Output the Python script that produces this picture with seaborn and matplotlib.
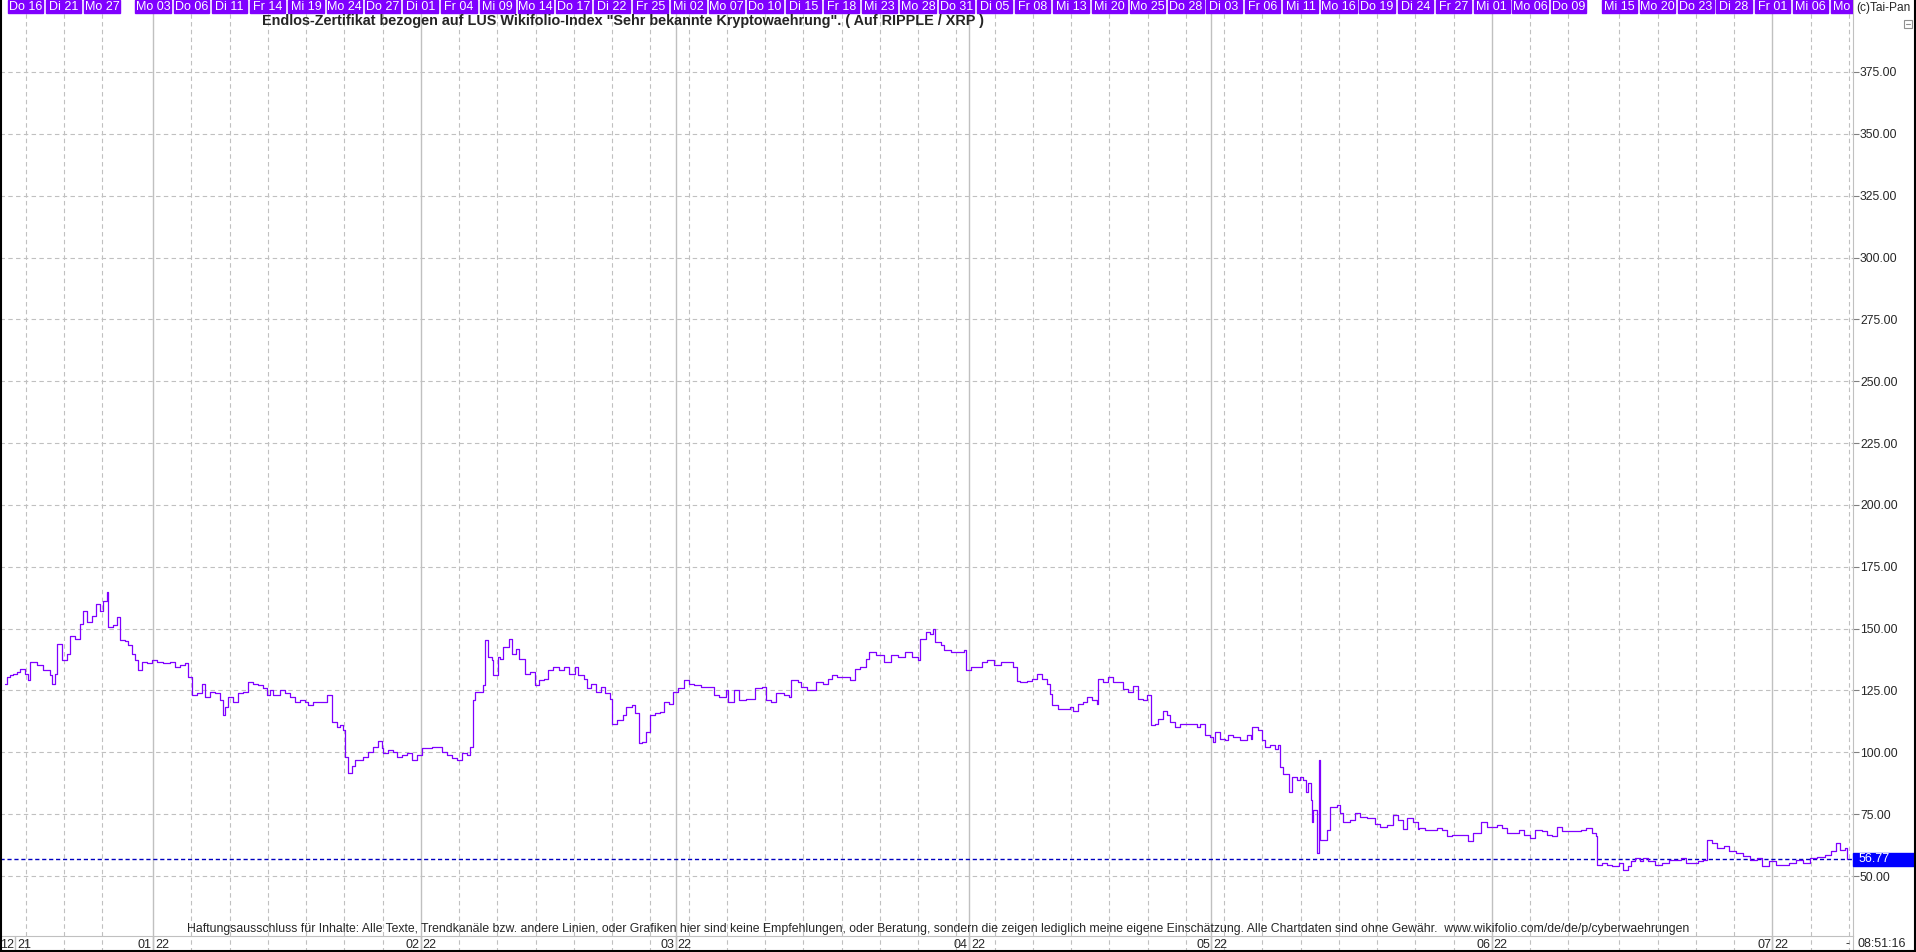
import pandas as pd
import matplotlib
matplotlib.use("Agg")
import matplotlib.pyplot as plt
import matplotlib.transforms as mtransforms
from matplotlib.patches import Rectangle
import seaborn as sns

# trading days at LUS, 14.12.2021 - 11.07.2022
feiertage = ["2021-12-24", "2021-12-31", "2022-04-15", "2022-04-18"]
handelstage = pd.bdate_range("2021-12-14", "2022-07-11")
handelstage = handelstage[~handelstage.isin(pd.to_datetime(feiertage))]
pos = {d: i for i, d in enumerate(handelstage)}

# price series: position in trading days since 14.12.2021, price
tag = [0.39, 0.55, 0.78, 1.02, 1.33, 1.57, 1.96, 2.20, 2.35, 2.90, 3.37, 3.92, 4.08, 4.31, 4.47, 4.86,
       5.25, 5.49, 5.88, 6.27, 6.51, 6.82, 7.22, 7.53, 7.84, 8.08, 8.39, 8.47, 8.86, 9.18, 9.41, 9.80,
       10.04, 10.35, 10.59, 10.82, 11.14, 11.53, 11.92, 12.31, 12.78, 13.33, 13.73, 14.12, 14.51, 14.75,
       15.06, 15.45, 15.84, 16.08, 16.47, 16.86, 17.25, 17.49, 17.65, 17.88, 18.27, 18.67, 19.06, 19.45,
       19.84, 20.24, 20.63, 20.94, 21.18, 21.41, 21.96, 22.35, 22.75, 23.14, 23.53, 23.92, 24.16, 24.55,
       25.10, 25.65, 25.88, 26.04, 26.43, 26.67, 26.90, 27.06, 27.29, 27.61, 27.84, 28.08, 28.47, 28.86,
       29.25, 29.65, 29.96, 30.04, 30.43, 30.82, 31.14, 31.53, 31.92, 32.31, 32.71, 33.10, 33.49, 33.88,
       34.27, 34.67, 35.06, 35.45, 35.84, 36.24, 36.63, 36.86, 37.10, 37.25, 37.65, 37.88, 38.04, 38.27,
       38.59, 38.67, 39.06,
       39.22, 39.45, 39.92, 40.16, 40.47, 40.71, 41.18, 41.57, 41.96, 42.27, 42.67, 42.98, 43.37, 43.84,
       44.24, 44.63, 45.10, 45.33, 45.80, 46.04, 46.35, 46.75, 47.14, 47.45, 47.84, 48.00, 48.39, 48.86,
       49.10, 49.57, 49.80, 50.12, 50.35, 50.67, 50.98, 51.37, 51.76, 52.08, 52.47, 52.78, 53.18, 53.65,
       54.04, 54.43, 54.98, 55.61, 56.00, 56.39, 56.94, 57.10, 57.57, 57.96, 58.51, 59.06, 59.22, 59.76,
       60.08, 60.47, 60.86, 61.49, 61.88, 62.04, 62.59, 62.82, 63.29, 64.00, 64.55, 64.94, 65.25, 65.65,
       66.20, 66.67, 67.06, 67.45, 67.92, 68.16, 68.71, 69.33, 69.88, 70.43, 70.98, 71.53, 72.00, 72.16,
       72.63, 72.94, 73.18, 73.33, 73.80, 74.04, 74.59, 75.22, 75.61, 75.76, 76.16, 76.55, 77.02, 77.41,
       77.96, 78.51, 79.14,
       79.45, 79.76, 80.00, 80.55, 80.94, 81.33, 81.73, 82.12, 82.35, 82.51, 82.98, 83.53, 83.92, 84.16,
       84.55, 84.94, 85.25, 85.65, 86.04, 86.12, 86.51, 86.90, 87.29, 87.69, 88.08, 88.47, 88.86, 89.25,
       89.65, 89.96, 90.27, 90.59, 90.82, 91.22, 91.53, 91.76, 92.16, 92.55, 93.10, 93.49, 93.88, 94.12,
       94.51, 94.90, 95.14, 95.29, 95.69, 96.08, 96.31, 96.71, 97.25, 97.80, 98.12, 98.20, 98.67, 98.98,
       99.22, 99.61, 100.00, 100.24, 100.39, 100.63, 100.94, 101.10, 101.33, 101.73, 101.96, 102.20,
       102.43, 102.59, 102.82, 102.90, 102.98, 103.29, 103.33, 103.45, 103.53, 103.76, 104.08, 104.31,
       104.55, 104.86, 105.10, 105.33, 105.88, 106.27, 106.67, 107.22, 107.61, 107.84, 108.24, 108.78,
       109.25, 109.65, 110.04, 110.35, 110.82, 111.22,
       111.29, 111.76, 112.16, 112.71, 113.10, 113.49, 113.88, 114.27, 114.67, 115.14, 115.53, 115.92,
       116.16, 116.63, 117.02, 117.41, 117.80, 118.20, 118.75, 119.14, 119.53, 120.00, 120.39, 120.94,
       121.33, 121.73, 122.12, 122.51, 123.06, 123.61, 124.00, 124.39, 124.86, 125.18, 125.25, 125.65,
       126.04, 126.43, 126.98, 127.29, 127.69, 127.92, 128.24, 128.63, 128.86, 129.25, 129.80, 130.35,
       130.90, 131.45, 131.84, 132.24, 132.78, 133.18, 133.57, 133.88, 134.27, 134.67, 135.22, 135.61,
       136.16, 136.71, 137.25, 137.80, 138.20, 138.75, 139.29, 139.84, 140.31, 140.86, 141.41, 141.96,
       142.51, 143.14, 143.61, 144.00, 144.31, 144.71, 144.86]
kurs = [127.8, 130.5, 131.2, 131.8, 132.5, 133.8, 131.8, 129.2, 136.5, 135.2, 133.2, 131.2, 127.8, 131.8, 143.9, 137.2,
        139.9, 147.2, 145.9, 151.9, 157.3, 152.6, 155.3, 160.0, 157.3, 161.3, 164.7, 150.6, 151.3, 154.6, 145.2, 145.0,
        143.2, 139.9, 137.2, 133.2, 136.5, 135.9, 137.2, 136.5, 135.9, 136.5, 134.5, 135.2, 135.9, 130.5,
        123.1, 123.8, 127.8, 122.5, 124.5, 123.8, 121.1, 115.1, 118.4, 122.5, 120.4, 123.8, 124.5, 128.5,
        127.8, 127.1, 125.8, 123.1, 125.1, 123.1, 125.1, 123.8, 122.5, 120.4, 121.1, 120.4, 119.1, 120.4,
        120.4, 123.1, 123.1, 112.4, 110.4, 111.1, 109.0, 98.3, 91.6, 94.3, 97.0, 97.0, 98.3, 100.3,
        102.3, 104.4, 101.7, 99.7, 101.0, 100.3, 98.3, 99.0, 99.7, 97.0, 99.0, 101.7, 101.7, 102.3,
        102.3, 100.3, 99.0, 97.7, 97.0, 99.7, 99.0, 102.3, 121.1, 124.5, 124.5, 127.1, 145.2, 138.5,
        137.2, 131.2, 138.5,
        137.9, 142.6, 146.0, 139.9, 141.9, 137.9, 131.8, 132.5, 127.1, 129.1, 129.8, 133.2, 134.5, 133.2,
        134.5, 131.8, 134.5, 131.2, 129.8, 125.8, 127.8, 124.4, 126.4, 123.8, 121.7, 111.6, 113.0, 115.0,
        118.4, 119.0, 115.7, 103.6, 104.2, 108.3, 115.0, 115.7, 116.4, 120.4, 119.7, 124.4, 125.8, 129.1,
        127.8, 127.1, 126.4, 126.4, 123.1, 122.4, 125.1, 120.4, 125.1, 121.1, 121.7, 121.7, 125.8, 126.4,
        121.1, 120.4, 123.8, 123.1, 122.4, 129.1, 128.5, 126.4, 125.1, 128.5, 127.8, 129.8, 131.2, 130.5,
        130.5, 129.1, 133.8, 134.5, 137.9, 140.6, 139.2, 136.5, 139.2, 138.6, 140.6, 138.6, 137.2, 146.0,
        148.7, 148.0, 150.0, 144.6, 143.3, 141.3, 140.6, 140.6, 141.3, 133.2, 134.5, 134.5, 136.5, 137.2,
        135.2, 136.5, 136.5,
        134.4, 129.0, 128.4, 129.0, 129.7, 131.7, 129.7, 127.7, 123.7, 119.0, 117.6, 117.6, 118.3, 116.9,
        119.6, 120.3, 122.3, 121.0, 119.6, 129.7, 128.4, 130.4, 128.4, 128.4, 125.7, 124.3, 127.0, 121.6,
        121.0, 123.0, 110.9, 111.6, 113.6, 116.9, 114.9, 112.2, 110.2, 111.6, 111.6, 111.6, 110.2, 111.6,
        106.9, 106.2, 104.2, 108.2, 105.5, 104.8, 106.9, 106.2, 104.8, 106.9, 105.5, 110.2, 108.9, 104.8,
        102.2, 102.8, 101.5, 102.8, 94.1, 91.4, 91.4, 84.0, 90.1, 88.7, 90.1, 88.7,
        84.0, 87.4, 80.6, 71.9, 76.6, 65.2, 59.1, 96.8, 64.5, 64.5, 68.5, 78.0,
        78.0, 78.6, 75.3, 71.9, 72.6, 75.3, 73.9, 73.3, 73.3, 71.2, 69.9, 70.6,
        74.6, 72.6, 69.2, 73.3, 71.9, 69.2,
        69.4, 68.7, 68.7, 69.4, 68.7, 66.0, 66.7, 66.7, 66.7, 64.0, 67.3, 67.3,
        72.0, 70.0, 70.0, 70.7, 69.4, 67.3, 67.3, 68.7, 66.7, 65.3, 68.7, 68.0,
        66.7, 66.0, 70.0, 68.0, 68.0, 68.0, 68.7, 69.4, 67.3, 66.0, 54.6, 55.3,
        54.6, 53.9, 55.3, 52.6, 53.9, 55.9, 57.3, 55.9, 57.3, 55.9, 54.6, 55.3,
        56.6, 56.6, 57.3, 55.3, 55.3, 55.9, 56.6, 64.7, 63.3, 61.3, 62.0, 60.0,
        59.3, 57.9, 56.6, 57.3, 53.9, 55.9, 54.6, 54.6, 55.3, 56.6, 55.3, 57.3,
        57.7, 58.5, 60.0, 63.3, 60.5, 61.2, 56.77]
letzter_kurs = 56.77
uhrzeit = "08:51:16"

# day labels in the top bar
kopf_tage = ["2021-12-16", "2021-12-21", "2021-12-27", "2022-01-03", "2022-01-06", "2022-01-11",
             "2022-01-14", "2022-01-19", "2022-01-24", "2022-01-27", "2022-02-01", "2022-02-04",
             "2022-02-09", "2022-02-14", "2022-02-17", "2022-02-22", "2022-02-25", "2022-03-02",
             "2022-03-07", "2022-03-10", "2022-03-15", "2022-03-18", "2022-03-23", "2022-03-28",
             "2022-03-31", "2022-04-05", "2022-04-08", "2022-04-13", "2022-04-20", "2022-04-25",
             "2022-04-28", "2022-05-03", "2022-05-06", "2022-05-11", "2022-05-16", "2022-05-19",
             "2022-05-24", "2022-05-27", "2022-06-01", "2022-06-06", "2022-06-09", "2022-06-15",
             "2022-06-20", "2022-06-23", "2022-06-28", "2022-07-01", "2022-07-06", "2022-07-11"]
wochentag = ["Mo", "Di", "Mi", "Do", "Fr"]
y_ticks = list(range(50, 400, 25))

titel = ('Endlos-Zertifikat bezogen auf LUS Wikifolio-Index "Sehr bekannte Kryptowaehrung". '
         '( Auf RIPPLE / XRP )')
hinweis = ("Haftungsausschluss für Inhalte: Alle Texte, Trendkanäle bzw. andere Linien, oder Grafiken hier "
           "sind keine Empfehlungen, oder Beratung, sondern die zeigen lediglich meine eigene Einschätzung. "
           "Alle Chartdaten sind ohne Gewähr.  www.wikifolio.com/de/de/p/cyberwaehrungen")

lila = "#8000FF"
grau = "#C0C0C0"

sns.set_style("white")
plt.rcParams["font.family"] = ["Liberation Sans", "DejaVu Sans"]

W, H = 1916, 952
fig = plt.figure(figsize=(W / 100, H / 100), dpi=100)
ax = fig.add_axes([0, 16 / H, 1853 / W, 936 / H])
ax2 = fig.add_axes([0, 0, 1853 / W, 16 / H], sharex=ax)

sns.lineplot(x=tag, y=kurs, ax=ax, color=lila, linewidth=0.9, drawstyle="steps-post",
             estimator=None, sort=False, zorder=5)

x_max = 145.33
ax.set_xlim(0, x_max)
ax.set_ylim(25.75, 404.1)

# grid
dash = (0, (4, 3))
monats_start = handelstage.to_series().groupby(handelstage.to_period("M")).first()
monats_pos = [pos[d] for d in monats_start.iloc[1:]]
kopf_pos = [pos[pd.Timestamp(d)] for d in kopf_tage]
for a in (ax, ax2):
    for p in kopf_pos:
        if p not in monats_pos:
            a.axvline(p, color=grau, lw=0.8, ls=dash, zorder=1)
    for p in monats_pos:
        a.axvline(p, color=grau, lw=1.0, zorder=1)
for v in y_ticks:
    ax.axhline(v, color=grau, lw=0.8, ls=dash, zorder=1)

ax.yaxis.tick_right()
ax.set_yticks(y_ticks)
ax.set_yticklabels([f"{v:.2f}" for v in y_ticks], fontsize=8.7)
ax.tick_params(axis="y", length=4, width=0.8, color="#808080", pad=1, right=True)
ax.tick_params(axis="x", bottom=False, labelbottom=False)
ax.set_xlabel("")
ax.set_ylabel("")
for s in ("top", "left", "bottom"):
    ax.spines[s].set_visible(False)
ax.spines["right"].set_color(grau)

# current price
ax.axhline(letzter_kurs, color="#0000C0", lw=1.0, ls=(0, (3, 2)), zorder=4)
yt = mtransforms.blended_transform_factory(ax.transAxes, ax.transData)
ax.add_patch(Rectangle((1.0, letzter_kurs - 2.7), W / 1853 - 1.0, 5.4, transform=yt,
                       color="#0000FF", clip_on=False, zorder=6))
ax.text(1.003, letzter_kurs, f"{letzter_kurs:.2f}", transform=yt, color="white", fontsize=9,
        va="center", ha="left", clip_on=False, zorder=7)

# top day bar
xt = mtransforms.blended_transform_factory(ax.transData, ax.transAxes)
box_h = 13 / 936
box_w = 2.78
for d, p in zip(kopf_tage, kopf_pos):
    ts = pd.Timestamp(d)
    ax.add_patch(Rectangle((p - box_w / 2, 1 - box_h), box_w, box_h, transform=xt,
                           color=lila, zorder=8, clip_on=True))
    if p + box_w / 2 > x_max:
        # box cut by the right edge: only the weekday stays visible
        ax.text(p - box_w / 2 + 0.15, 1 - box_h / 2, wochentag[ts.weekday()], transform=xt,
                color="white", fontsize=9, ha="left", va="center", zorder=9)
    else:
        ax.text(p, 1 - box_h / 2, f"{wochentag[ts.weekday()]} {ts.day:02d}", transform=xt,
                color="white", fontsize=9, ha="center", va="center", zorder=9)

# month labels in the bottom bar
ax2.set_ylim(0, 1)
ax2.set_yticks([])
ax2.tick_params(axis="x", bottom=False, labelbottom=False)
for s in ("left", "bottom"):
    ax2.spines[s].set_visible(False)
ax2.spines["top"].set_color(grau)
ax2.spines["right"].set_color(grau)
for d in monats_start:
    p = max(pos[d], 1.2)
    ax2.axvline(p, color=grau, lw=1.0)
    ax2.text(p - 0.1, 0.45, f"{d.month:02d}", ha="right", va="center", fontsize=9)
    ax2.text(p + 0.15, 0.45, f"{d.year % 100:02d}", ha="left", va="center", fontsize=9)
ax2.text(tag[-1], 0.5, "-", ha="center", va="center", fontsize=9)

# texts
fig.text(262 / W, 1 - 21 / H, titel, fontsize=10.4, weight="bold", va="center", ha="left")
fig.text(187 / W, 1 - 929 / H, hinweis, fontsize=8.8, va="center", ha="left")
fig.text(1856 / W, 1 - 8 / H, "(c)Tai-Pan", fontsize=8.6, va="center", ha="left")
fig.text(1858 / W, 8 / H, uhrzeit, fontsize=9, va="center", ha="left")
fig.add_artist(Rectangle((1904 / W, 1 - 28 / H), 8 / W, 8 / H, transform=fig.transFigure,
                         fill=False, ec="#909090", lw=0.8))
fig.add_artist(plt.Line2D([1906 / W, 1910 / W], [1 - 24 / H, 1 - 24 / H], color="#909090",
                          lw=0.8, transform=fig.transFigure))

# frame
for xs, ys in (([1 / W, 1 / W], [0, 1]), ([1 - 1 / W, 1 - 1 / W], [0, 1]), ([0, 1], [1 / H, 1 / H])):
    fig.add_artist(plt.Line2D(xs, ys, color="black", lw=1.5, transform=fig.transFigure))

fig.savefig("out.png", dpi=100)
